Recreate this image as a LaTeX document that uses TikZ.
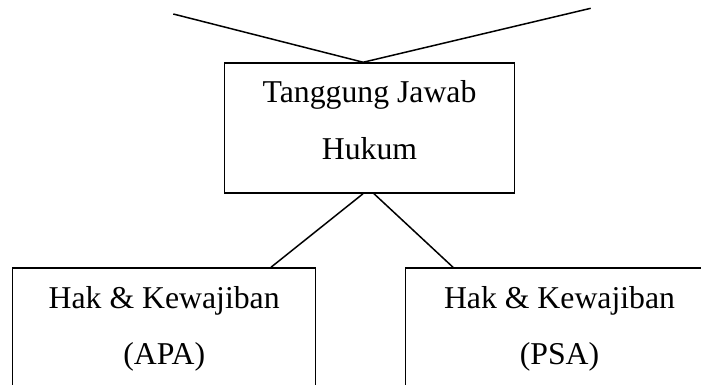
\documentclass[tikz,border=0pt]{standalone}
\usepackage{fontspec}
\setmainfont{Liberation Serif}
\begin{document}
\begin{tikzpicture}[x=1pt,y=1pt,
  boxnode/.style={draw=black, line width=1.5pt, rectangle, inner sep=0pt},
  txt/.style={inner sep=0pt, anchor=base, font=\fontsize{31.75}{56}\selectfont},
  link/.style={draw=black, line width=1.5pt}]
\useasboundingbox (0,0) rectangle (701,-385);
\clip (0,0) rectangle (701,-385);
% boxes
\node[boxnode, minimum width=290, minimum height=130] (top) at (369.7,-128) {};
\node[boxnode, minimum width=303, minimum height=140] (left) at (164.2,-338) {};
\node[boxnode, minimum width=303, minimum height=140] (right) at (557.2,-338) {};
% texts
\node[txt] (t1) at (369.5,-103) {Tanggung Jawab};
\node[txt] (t2) at (369.5,-159) {Hukum};
\node[txt] (l1) at (164.2,-308) {Hak \& Kewajiban};
\node[txt] (l2) at (164.2,-364) {(APA)};
\node[txt] (r1) at (559.5,-308) {Hak \& Kewajiban};
\node[txt] (r2) at (559.5,-364) {(PSA)};
% free ends of the upper lines
\coordinate (tl) at (173.3,-14);
\coordinate (tr) at (590.7,-8.3);
\coordinate (meet) at ([xshift=-6.5pt]top.north);
\draw[link] (tl) -- (meet) -- (tr);
% connectors to lower boxes
\draw[link] ([xshift=-6.7pt]top.south) -- ([xshift=106.8pt]left.north);
\draw[link] ([xshift=4.3pt]top.south) -- ([xshift=-104.2pt]right.north);
\end{tikzpicture}
\end{document}
